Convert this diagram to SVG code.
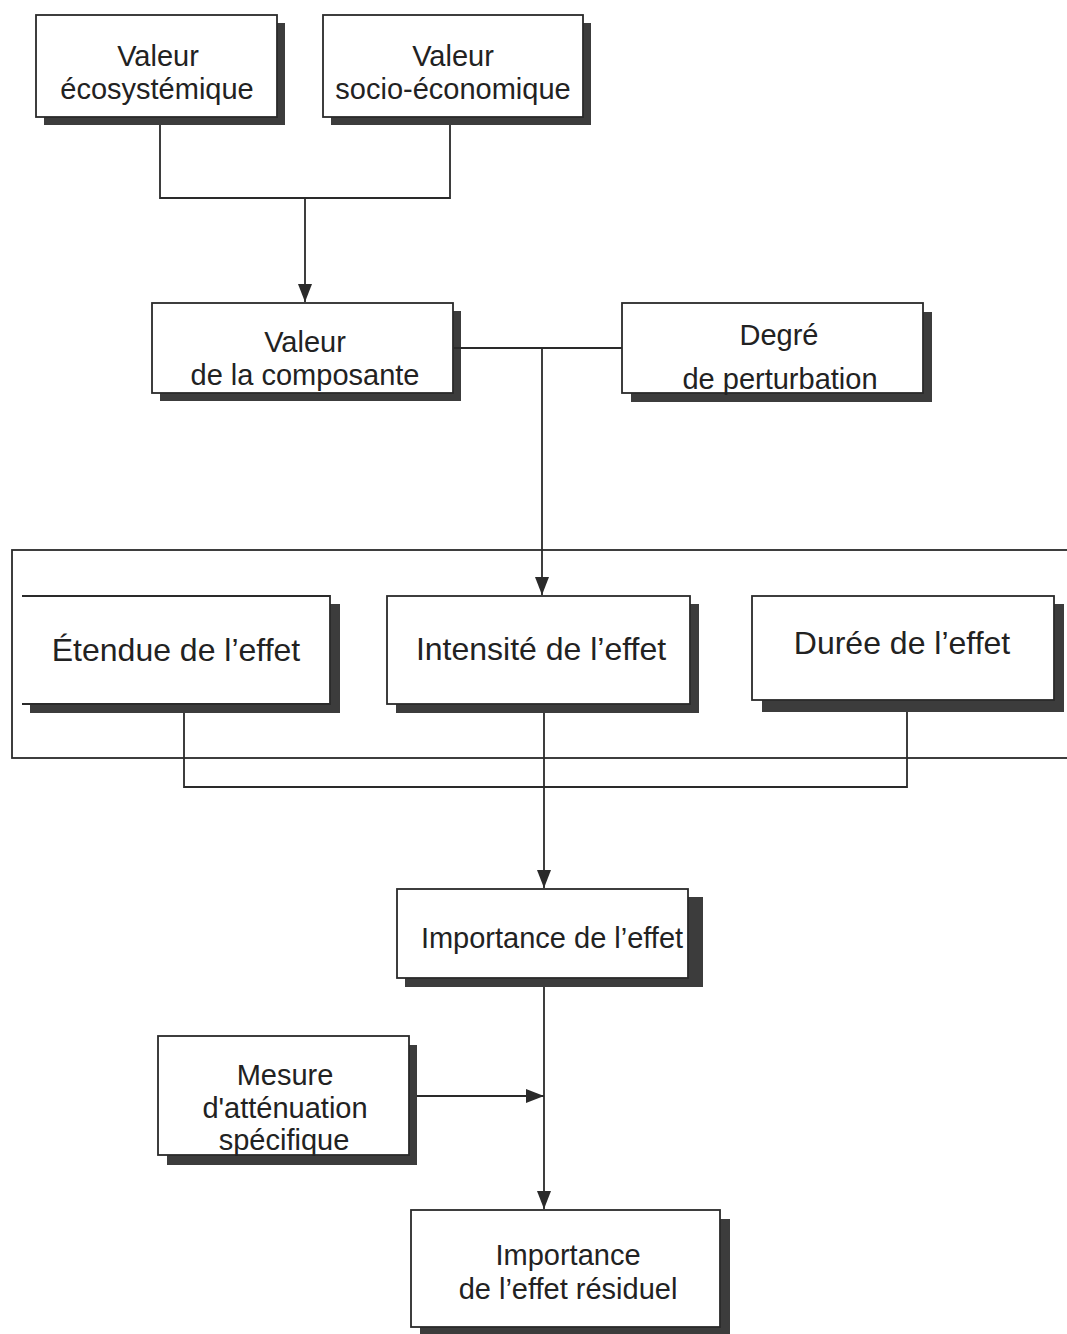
<svg xmlns="http://www.w3.org/2000/svg" width="1067" height="1334" viewBox="0 0 1067 1334">
<style>
.frame{fill:#fff;stroke:#2a2a2a;stroke-width:1.8}
.shadow{fill:#3c3c3c}
.t{font-family:"Liberation Sans",Arial,sans-serif;font-size:29px;fill:#222;text-anchor:middle}
.tm{font-size:32px}
.c{fill:none;stroke:#2a2a2a;stroke-width:1.8}
</style>
<defs>
<marker id="arr" viewBox="0 0 18 14" refX="18" refY="7" markerWidth="18" markerHeight="14" markerUnits="userSpaceOnUse" orient="auto">
<path d="M0,0 L18,7 L0,14 z" fill="#2a2a2a"/>
</marker>
</defs>
<rect x="0" y="0" width="1067" height="1334" fill="#fff"/>

<rect id="container" x="12" y="550" width="1075" height="208" fill="none" stroke="#2a2a2a" stroke-width="1.8"/>

<g id="n-eco">
<rect class="shadow" x="44" y="23" width="241" height="102"/>
<rect class="frame" x="36" y="15" width="241" height="102"/>
<text class="t" x="158" y="66">Valeur</text>
<text class="t" x="157" y="99">écosystémique</text>
</g>
<g id="n-socio">
<rect class="shadow" x="331" y="23" width="260" height="102"/>
<rect class="frame" x="323" y="15" width="260" height="102"/>
<text class="t" x="453" y="66">Valeur</text>
<text class="t" x="453" y="99">socio-économique</text>
</g>
<g id="n-composante">
<rect class="shadow" x="160" y="311" width="301" height="90"/>
<rect class="frame" x="152" y="303" width="301" height="90"/>
<text class="t" x="305" y="352">Valeur</text>
<text class="t" x="305" y="385">de la composante</text>
</g>
<g id="n-degre">
<rect class="shadow" x="631" y="312" width="301" height="90"/>
<rect class="frame" x="622" y="303" width="301" height="90"/>
<text class="t" x="779" y="345">Degré</text>
<text class="t" x="780" y="389">de perturbation</text>
</g>
<g id="n-etendue">
<rect class="shadow" x="30" y="604" width="310" height="109"/>
<rect x="22" y="596" width="308" height="108" fill="#fff"/>
<path class="c" d="M22,596 H330 V704 H22"/>
<text class="t tm" x="176" y="661">Étendue de l’effet</text>
</g>
<g id="n-intensite">
<rect class="shadow" x="396" y="604" width="303" height="109"/>
<rect class="frame" x="387" y="596" width="303" height="108"/>
<text class="t tm" x="541" y="660">Intensité de l’effet</text>
</g>
<g id="n-duree">
<rect class="shadow" x="762" y="604" width="302" height="108"/>
<rect class="frame" x="752" y="596" width="302" height="104"/>
<text class="t tm" x="902" y="654">Durée de l’effet</text>
</g>
<g id="n-importance">
<rect class="shadow" x="405" y="897" width="298" height="90"/>
<rect class="frame" x="397" y="889" width="291" height="89"/>
<text class="t" x="552" y="948">Importance de l’effet</text>
</g>
<g id="n-mesure">
<rect class="shadow" x="167" y="1045" width="250" height="120"/>
<rect class="frame" x="158" y="1036" width="251" height="119"/>
<text class="t" x="285" y="1085">Mesure</text>
<text class="t" x="285" y="1118">d'atténuation</text>
<text class="t" x="284" y="1150">spécifique</text>
</g>
<g id="n-residuel">
<rect class="shadow" x="420" y="1219" width="310" height="120"/>
<rect class="frame" x="411" y="1210" width="309" height="117"/>
<text class="t" x="568" y="1265">Importance</text>
<text class="t" x="568" y="1299">de l’effet résiduel</text>
</g>

<g id="connectors">
<polyline class="c" points="160,125 160,198 450,198 450,125"/>
<line class="c" x1="305" y1="198" x2="305" y2="302" marker-end="url(#arr)"/>
<line class="c" x1="453" y1="348" x2="622" y2="348"/>
<line class="c" x1="542" y1="348" x2="542" y2="595" marker-end="url(#arr)"/>
<polyline class="c" points="184,713 184,787 907,787 907,712"/>
<line class="c" x1="544" y1="713" x2="544" y2="888" marker-end="url(#arr)"/>
<line class="c" x1="544" y1="987" x2="544" y2="1209" marker-end="url(#arr)"/>
<line class="c" x1="417" y1="1096" x2="544" y2="1096" marker-end="url(#arr)"/>
</g>
</svg>
